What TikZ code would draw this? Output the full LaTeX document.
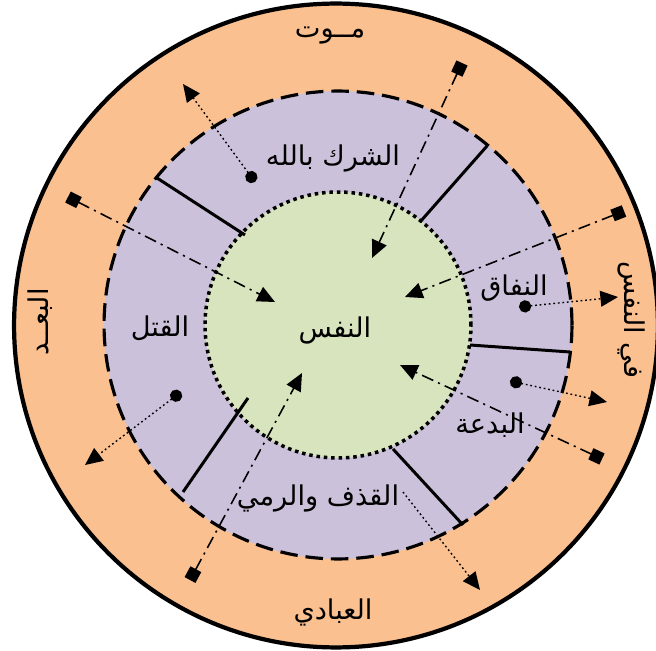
\documentclass[tikz,border=0pt]{standalone}
\usepackage{fontspec}
\usetikzlibrary{arrows.meta}
\TeXXeTstate=1
\newfontfamily\arabicfont[Script=Arabic]{DejaVu Sans}
\definecolor{outerfill}{HTML}{FAC090}
\definecolor{ringfill}{HTML}{CCC1DA}
\definecolor{corefill}{HTML}{D7E4BD}
\tikzset{
  outerring/.style={circle, draw, line width=2.4pt, fill=outerfill, inner sep=0pt},
  midring/.style={circle, draw, line width=1.8pt, fill=ringfill, inner sep=0pt,
                  dash pattern=on 10pt off 4.5pt},
  corering/.style={circle, draw, line width=2pt, fill=corefill, inner sep=0pt,
                   dash pattern=on 2pt off 2.2pt},
  divider/.style={line width=1.7pt},
  lbl/.style={font=\arabicfont\fontsize{15.5}{18}\selectfont, inner sep=1pt},
  inarrow/.style={{Square[length=7pt,width=7pt]}-{Triangle[length=10pt,width=9pt]},
                  line width=0.9pt, dash pattern=on 7pt off 3pt on 1.2pt off 3pt},
  outarrow/.style={{Circle[length=7pt]}-{Triangle[length=10pt,width=9pt]},
                   line width=0.8pt, dash pattern=on 1pt off 1.6pt},
  openarrow/.style={outarrow, {}-{Triangle[length=10pt,width=9pt]}}
}
\begin{document}
\begin{tikzpicture}[x=0.02cm, y=-0.02cm]
\useasboundingbox (0,0) rectangle (656,651);
% rings
\node (outer) [outerring, minimum size=12.88cm] at (336,325.5) {};
\node (ring) [midring, minimum size=9.36cm] at (338,325) {};
\node (core) [corering, minimum size=5.32cm] at (338,325) {};
% dividers between the sectors
\coordinate (d1i) at (245,235); \coordinate (d1o) at (157,178);
\coordinate (d2i) at (420,222); \coordinate (d2o) at (487,146);
\coordinate (d3i) at (470,345); \coordinate (d3o) at (570,352);
\coordinate (d4i) at (393,449); \coordinate (d4o) at (463,525);
\coordinate (d5i) at (248,398); \coordinate (d5o) at (183,492);
\draw[divider] (d1i) -- (d1o);
\draw[divider] (d2i) -- (d2o);
\draw[divider] (d3i) -- (d3o);
\draw[divider] (d4i) -- (d4o);
\draw[divider] (d5i) -- (d5o);
% labels
\node (nafs) [lbl] at (335,330) {\beginR النفس\endR};
\node (shirk) [lbl] at (333,158) {\beginR الشرك بالله\endR};
\node (nifaq) [lbl] at (514,288) {\beginR النفاق\endR};
\node (bidaa) [lbl] at (490,425) {\beginR البدعة\endR};
\node (qadhf) [lbl] at (318,498) {\beginR القذف والرمي\endR};
\node (qatl) [lbl] at (160,328) {\beginR القتل\endR};
\node (mawt) [lbl] at (330,36) {\beginR مــوت\endR};
\node (ibadi) [lbl] at (333,612) {\beginR العبادي\endR};
\node (buad) [lbl, rotate=90] at (40,322) {\beginR البعــد\endR};
\node (finafs) [lbl, rotate=-90] at (632,320) {\beginR في النفس\endR};
% arrows into the core
\coordinate (s1) at (462,63);  \coordinate (t1) at (372,258);
\coordinate (s2) at (624,211); \coordinate (t2) at (405,297);
\coordinate (s3) at (68,197);  \coordinate (t3) at (275,302);
\coordinate (s4) at (602,459); \coordinate (t4) at (400,365);
\coordinate (s5) at (190,580); \coordinate (t5) at (302,373);
\draw[inarrow] (s1) -- (t1);
\draw[inarrow] (s2) -- (t2);
\draw[inarrow] (s3) -- (t3);
\draw[inarrow] (s4) -- (t4);
\draw[inarrow] (s5) -- (t5);
% arrows out of the ring
\coordinate (p1) at (255,182); \coordinate (q1) at (183,84);
\coordinate (p2) at (519,307); \coordinate (q2) at (618,297);
\coordinate (p3) at (510,381); \coordinate (q3) at (607,402);
\coordinate (p4) at (181,392); \coordinate (q4) at (85,465);
\coordinate (p5) at (403,492); \coordinate (q5) at (480,590);
\draw[outarrow] (p1) -- (q1);
\draw[outarrow] (p2) -- (q2);
\draw[outarrow] (p3) -- (q3);
\draw[outarrow] (p4) -- (q4);
\draw[openarrow] (p5) -- (q5);
\end{tikzpicture}
\end{document}
